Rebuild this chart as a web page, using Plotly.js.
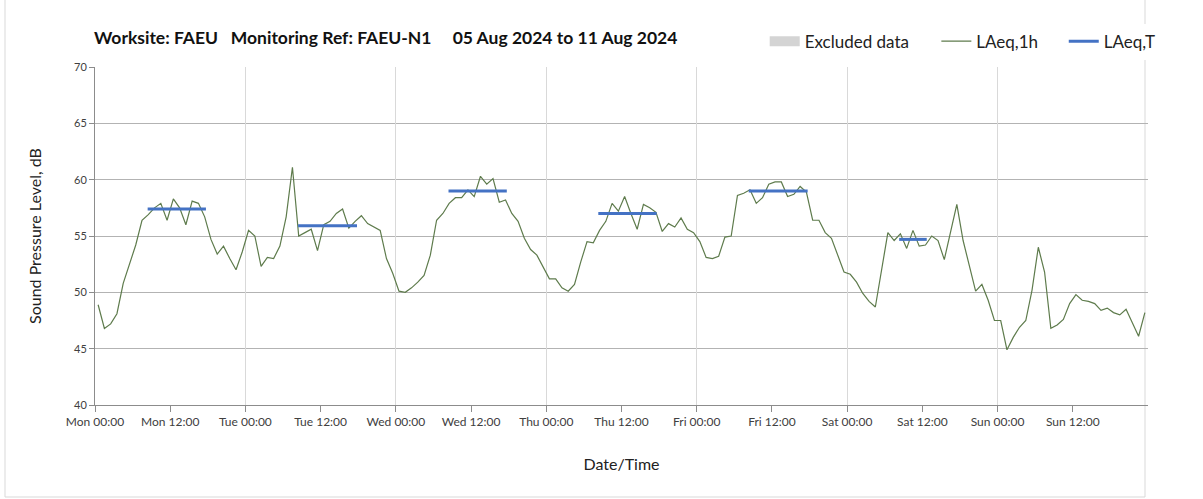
<!DOCTYPE html>
<html>
<head>
<meta charset="utf-8">
<script src="https://cdn.plot.ly/plotly-3.0.1.min.js"></script>
<style>
  html, body { margin: 0; padding: 0; background: #fff; }
  #plot { width: 1203px; height: 499px; }
</style>
</head>
<body>
<div id="plot"></div>
<script>
// hourly LAeq,1h values, Mon 00:00 .. Sun 23:00 (dB)
const hourlyLevels = [
  48.9, 46.8, 47.2, 48.1, 50.8, 52.6, 54.2, 56.4, 56.9, 57.5, 57.9, 56.4,
  58.3, 57.5, 56.0, 58.1, 57.9, 56.7, 54.7, 53.4, 54.1, 53.0, 52.0, 53.6,
  55.5, 55.0, 52.3, 53.1, 53.0, 54.1, 56.7, 61.1, 55.0, 55.3, 55.6, 53.7,
  56.0, 56.3, 57.0, 57.4, 55.7, 56.3, 56.8, 56.1, 55.8, 55.5, 53.0, 51.7,
  50.1, 50.0, 50.4, 50.9, 51.5, 53.3, 56.4, 57.0, 57.9, 58.4, 58.4, 59.1,
  58.5, 60.3, 59.6, 60.1, 58.0, 58.2, 57.0, 56.3, 54.8, 53.8, 53.3, 52.3,
  51.2, 51.2, 50.4, 50.1, 50.7, 52.7, 54.5, 54.4, 55.5, 56.3, 57.9, 57.2,
  58.5, 57.0, 55.6, 57.8, 57.5, 57.1, 55.4, 56.1, 55.8, 56.6, 55.6, 55.3,
  54.5, 53.1, 53.0, 53.2, 54.9, 55.0, 58.6, 58.8, 59.1, 57.9, 58.4, 59.6,
  59.8, 59.8, 58.5, 58.7, 59.4, 58.9, 56.4, 56.4, 55.3, 54.8, 53.3, 51.8,
  51.6, 50.9, 49.9, 49.2, 48.7, 52.0, 55.3, 54.6, 55.2, 53.9, 55.5, 54.1,
  54.2, 55.0, 54.6, 52.9, 55.5, 57.8, 54.6, 52.3, 50.1, 50.7, 49.3, 47.5,
  47.5, 44.9, 46.0, 46.9, 47.5, 50.2, 54.0, 51.8, 46.8, 47.1, 47.6, 49.0,
  49.8, 49.3, 49.2, 49.0, 48.4, 48.6, 48.2, 48.0, 48.5, 47.3, 46.1, 48.2
];

// LAeq,T daytime periods (hours from Mon 00:00) and levels
const periodStart = [8.4, 32.4, 56.4, 80.3, 104.3, 128.3];
const periodEnd   = [17.7, 41.8, 65.7, 89.6, 113.7, 132.7];
const periodLevel = [57.4, 55.9, 59.0, 57.0, 59.0, 54.7];

const dayNames = ['Mon', 'Tue', 'Wed', 'Thu', 'Fri', 'Sat', 'Sun'];

// build tick labels every 12 h
const tickVals = [], tickText = [], dayVals = [];
dayNames.forEach((d, i) => {
  tickVals.push(i * 24, i * 24 + 12);
  tickText.push(d + ' 00:00', d + ' 12:00');
  dayVals.push(i * 24);
});
dayVals.push(168);

const hourX = hourlyLevels.map((_, i) => i + 0.5);

const blueX = [], blueY = [];
periodLevel.forEach((v, i) => {
  blueX.push(periodStart[i], periodEnd[i], null);
  blueY.push(v, v, null);
});

const fontFam = 'Lato, "Open Sans", sans-serif';

const data = [
  {
    // no excluded periods this week; trace kept for the legend key
    x: [null], y: [null], type: 'scatter', mode: 'lines', name: 'Excluded data',
    line: { color: '#d4d4d4', width: 10 }, hoverinfo: 'skip', legend: 'legend'
  },
  {
    x: hourX, y: hourlyLevels, type: 'scatter', mode: 'lines',
    name: 'LAeq,1h', line: { color: '#5e7b4c', width: 1.2 }, legend: 'legend2'
  },
  {
    x: blueX, y: blueY, type: 'scatter', mode: 'lines', xaxis: 'x2',
    name: 'LAeq,T', line: { color: '#4472c4', width: 3 }, legend: 'legend3'
  }
];

const legendBase = {
  orientation: 'h', xanchor: 'left', y: 1.075, yanchor: 'middle',
  font: { family: fontFam, size: 17, color: '#222' }
};

const layout = {
  width: 1203, height: 499,
  margin: { l: 95, r: 55, t: 67, b: 94, autoexpand: false },
  paper_bgcolor: '#fff', plot_bgcolor: '#fff',
  font: { family: fontFam, color: '#404040', size: 12 },
  title: {
    text: 'Worksite: FAEU&nbsp;&nbsp;&nbsp;Monitoring Ref: FAEU-N1&nbsp;&nbsp;&nbsp;&nbsp;&nbsp;05 Aug 2024 to 11 Aug 2024',
    font: { family: fontFam, size: 17.5, color: '#111', weight: 'bold' },
    x: 94 / 1203, xanchor: 'left', y: 0.924, yanchor: 'middle'
  },
  showlegend: true,
  legend: Object.assign({ x: 0.636 }, legendBase),
  legend2: Object.assign({ x: 0.799 }, legendBase),
  legend3: Object.assign({ x: 0.920 }, legendBase),
  xaxis: {
    range: [0, 168], tickmode: 'array', tickvals: tickVals, ticktext: tickText,
    showgrid: false, zeroline: false, showline: true, linecolor: '#8c8c8c',
    ticks: 'outside', ticklen: 6, tickcolor: '#8c8c8c',
    tickfont: { size: 12, color: '#404040' },
    title: { text: 'Date/Time', font: { size: 16, color: '#222' }, standoff: 30 }
  },
  xaxis2: {
    range: [0, 168], overlaying: 'x', side: 'bottom', tickmode: 'array',
    tickvals: dayVals, showticklabels: false, ticks: '',
    showgrid: true, gridcolor: '#d9d9d9', gridwidth: 1, zeroline: false
  },
  yaxis: {
    range: [40, 70], dtick: 5, showgrid: true, gridcolor: '#b3b3b3',
    zeroline: false, showline: true, linecolor: '#8c8c8c',
    ticks: 'outside', ticklen: 5, tickcolor: '#8c8c8c',
    tickfont: { size: 11, color: '#404040' },
    title: { text: 'Sound Pressure Level, dB', font: { size: 16, color: '#222' }, standoff: 28 }
  },
  shapes: [{
    type: 'rect', xref: 'paper', yref: 'paper',
    x0: -90 / 1053, x1: 1050 / 1053, y0: -92 / 338, y1: 1.2,
    line: { color: '#d9d9d9', width: 1 }, layer: 'below'
  }]
};

Plotly.newPlot('plot', data, layout, { displayModeBar: false, staticPlot: true });
</script>
</body>
</html>
